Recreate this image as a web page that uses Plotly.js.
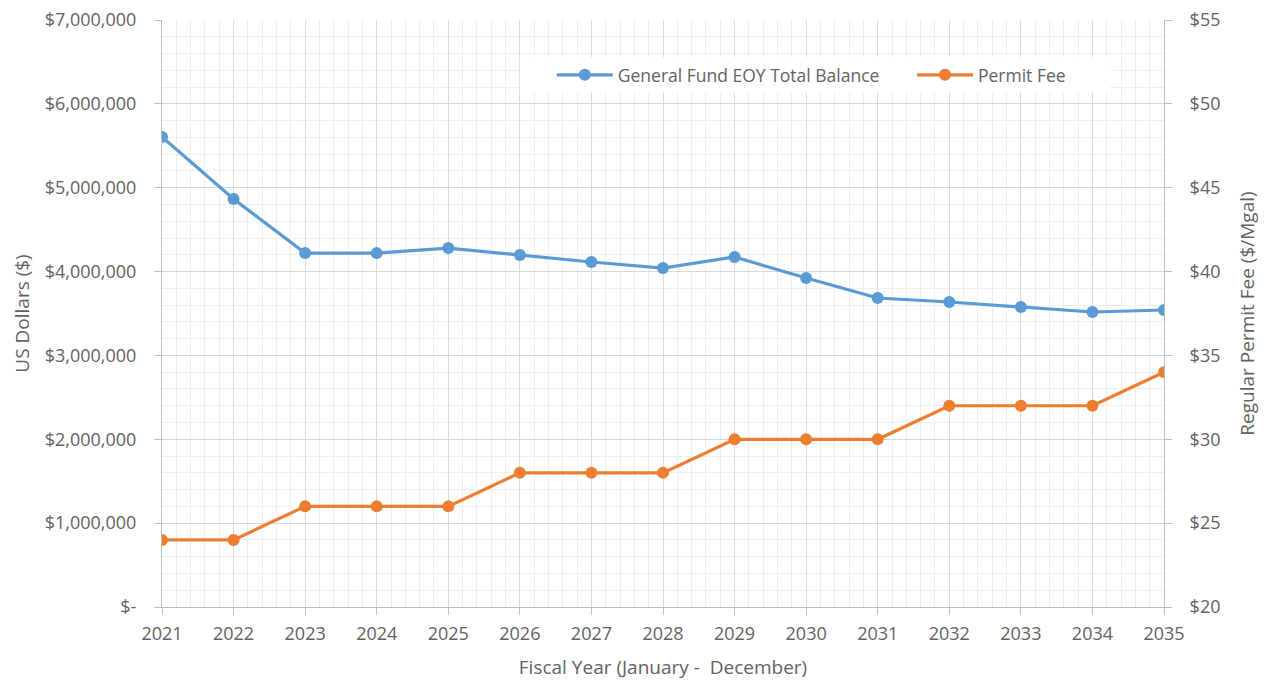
<!DOCTYPE html>
<html>
<head>
<meta charset="utf-8">
<script src="https://cdn.plot.ly/plotly-3.0.1.min.js"></script>
<style>html,body{margin:0;padding:0;background:#fff;}#chart{width:1265px;height:683px;}</style>
</head>
<body>
<div id="chart"></div>
<script>
const years = [2021,2022,2023,2024,2025,2026,2027,2028,2029,2030,2031,2032,2033,2034,2035];
const fundBalance = [5605000,4865000,4221000,4220000,4280000,4197000,4114000,4042000,4174000,3923000,3685000,3637000,3577000,3518000,3542000];
const permitFee = [24,24,26,26,26,28,28,28,30,30,30,32,32,32,34];
const leftTickVals = [0,1000000,2000000,3000000,4000000,5000000,6000000,7000000];
const leftTickText = ['$-','$1,000,000','$2,000,000','$3,000,000','$4,000,000','$5,000,000','$6,000,000','$7,000,000'];
const rightTickVals = [20,25,30,35,40,45,50,55];
const rightTickText = ['$20','$25','$30','$35','$40','$45','$50','$55'];

const font = 'Open Sans, Noto Sans, sans-serif';
const txt = '#636363';
const major = '#d9d9d9';
const minor = '#eeeeee';
const axisCol = '#bfbfbf';

const traces = [
  {x: years, y: fundBalance, name: 'General Fund EOY Total Balance', type: 'scatter', mode: 'lines+markers',
   line: {color: '#5B9BD5', width: 3.2}, marker: {color: '#5B9BD5', size: 12}, yaxis: 'y', legend: 'legend'},
  {x: years, y: permitFee, name: 'Permit Fee', type: 'scatter', mode: 'lines+markers',
   line: {color: '#ED7D31', width: 3.2}, marker: {color: '#ED7D31', size: 12}, yaxis: 'y2', legend: 'legend2'}
];

const legendBase = {orientation: 'h', xanchor: 'left', yanchor: 'top', y: 0.937, itemwidth: 56,
                    bgcolor: 'rgba(255,255,255,0)', font: {size: 17.5, color: txt}};

const layout = {
  width: 1265, height: 683,
  margin: {l: 162, r: 101, t: 20, b: 76},
  paper_bgcolor: '#fff', plot_bgcolor: '#fff',
  font: {family: font, color: txt, size: 18},
  showlegend: true,
  legend: Object.assign({}, legendBase, {x: 0.389}),
  legend2: Object.assign({}, legendBase, {x: 0.7485}),
  shapes: [{type: 'rect', xref: 'paper', yref: 'paper', x0: 0.357, x1: 0.946, y0: 0.876, y1: 0.937,
            fillcolor: '#ffffff', line: {width: 0}, layer: 'above'}],
  xaxis: {range: [2021, 2035], tickmode: 'linear', tick0: 2021, dtick: 1, showline: true, linecolor: axisCol,
          ticks: 'outside', ticklen: 7, tickcolor: axisCol, gridcolor: major, zeroline: false, automargin: false,
          ticklabelstandoff: 3,
          minor: {dtick: 0.2, showgrid: true, gridcolor: minor},
          title: {text: 'Fiscal Year (January -  December)', font: {size: 19, color: txt}, standoff: 17},
          tickfont: {size: 18, color: txt}},
  yaxis: {range: [0, 7000000], tickvals: leftTickVals, ticktext: leftTickText, showline: true, linecolor: axisCol,
          ticks: 'outside', ticklen: 7, tickcolor: axisCol, gridcolor: major, zeroline: false, automargin: false,
          ticklabelstandoff: 14,
          minor: {dtick: 200000, showgrid: true, gridcolor: minor},
          title: {text: 'US Dollars ($)', font: {size: 19, color: txt}, standoff: 10},
          tickfont: {size: 18, color: txt}},
  yaxis2: {range: [20, 55], tickvals: rightTickVals, ticktext: rightTickText, overlaying: 'y', side: 'right',
           showline: true, linecolor: axisCol, ticks: 'outside', ticklen: 7, tickcolor: axisCol,
           showgrid: false, zeroline: false, automargin: false, ticklabelstandoff: 14,
           title: {text: 'Regular Permit Fee ($/Mgal)', font: {size: 19, color: txt}, standoff: 21},
           tickfont: {size: 18, color: txt}}
};

Plotly.newPlot('chart', traces, layout, {displayModeBar: false, responsive: false});
</script>
</body>
</html>
